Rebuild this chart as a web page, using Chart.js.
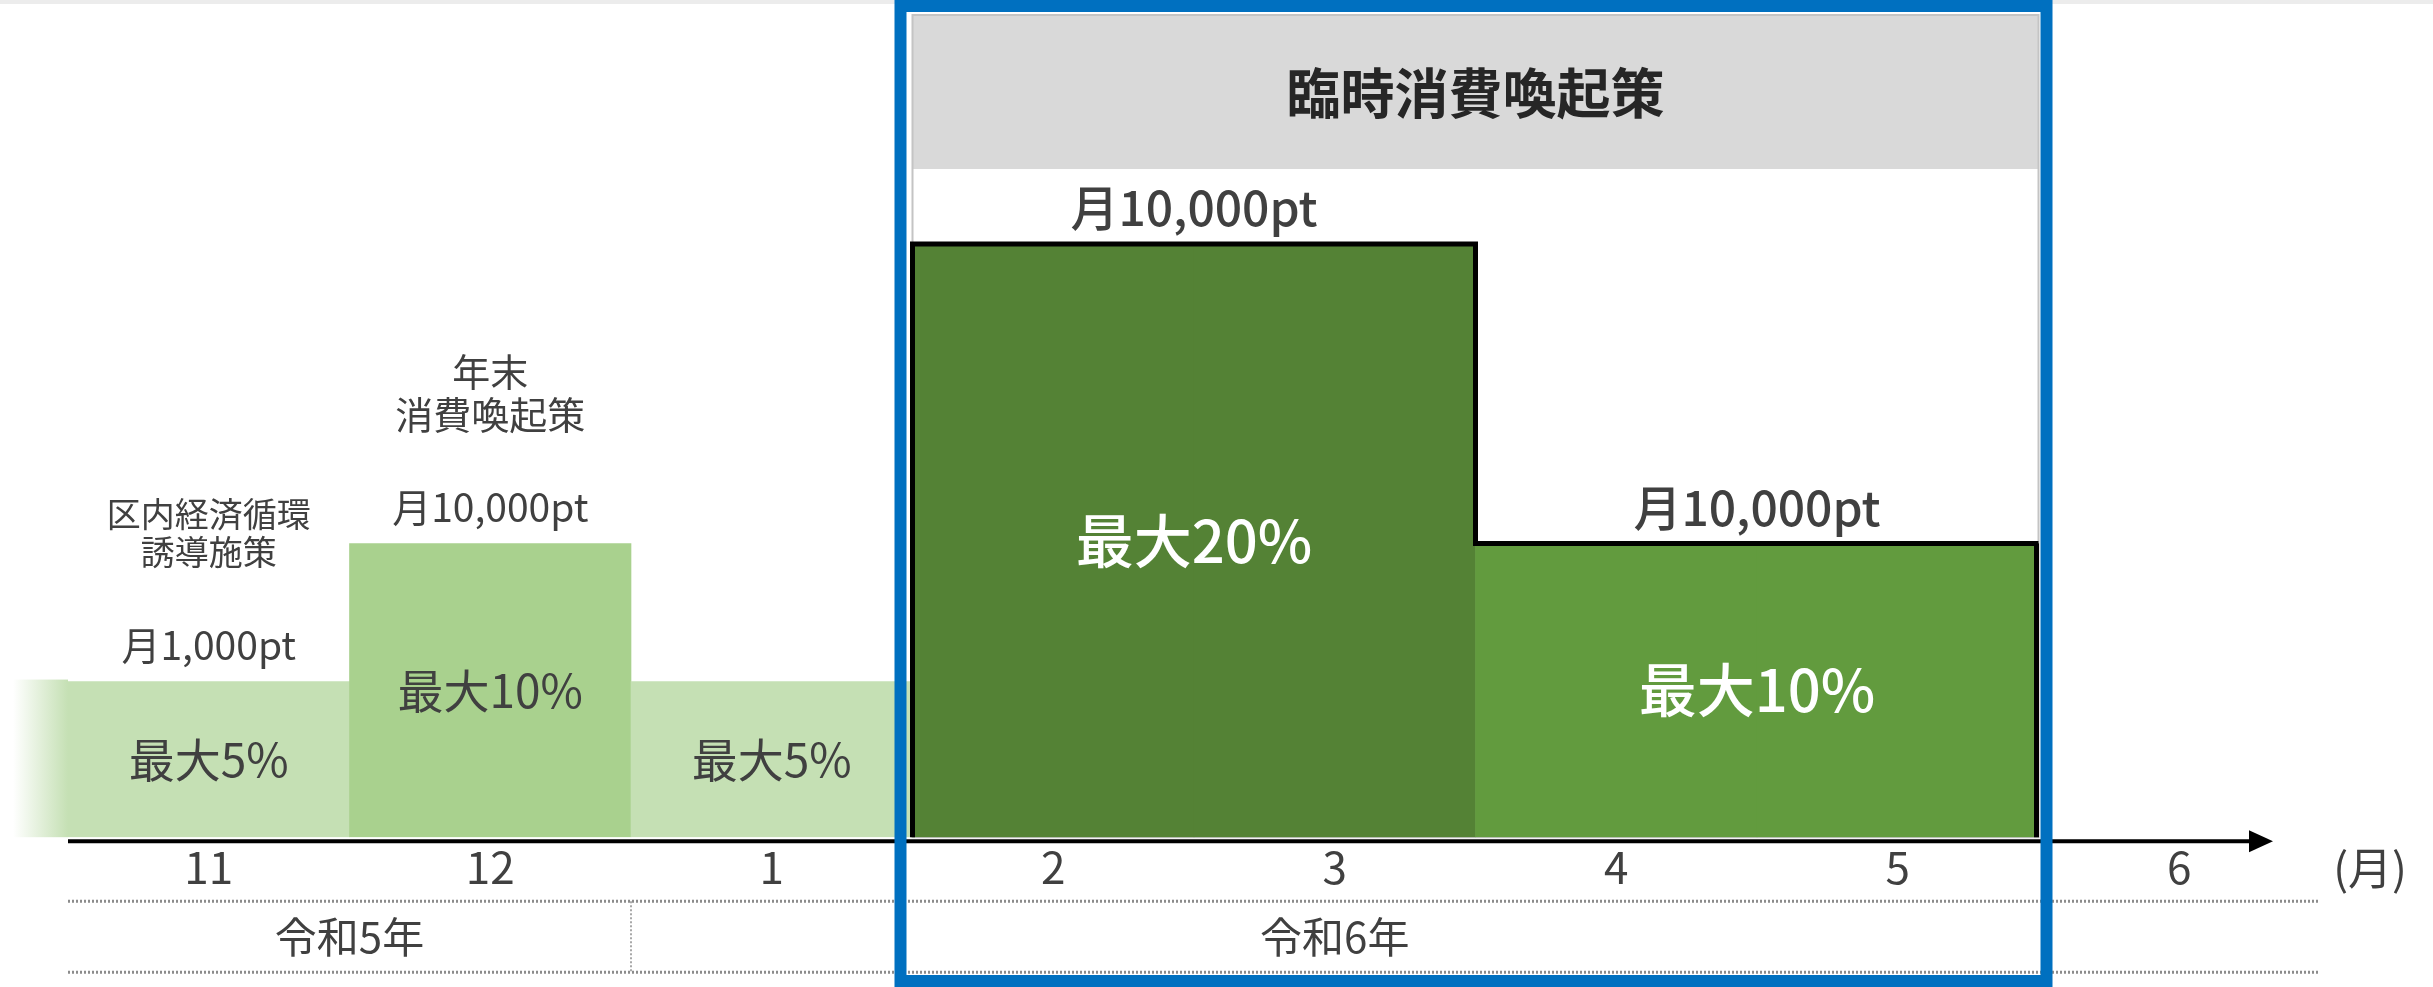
<!DOCTYPE html>
<html lang="ja">
<head>
<meta charset="utf-8">
<title>臨時消費喚起策</title>
<script src="https://cdn.jsdelivr.net/npm/chart.js@4.4.1/dist/chart.umd.min.js"></script>
<style>
	html, body { margin: 0; padding: 0; background: #fff; }
	#wrap { width: 2433px; height: 987px; }
</style>
</head>
<body>
<div id="wrap"><canvas id="myChart" width="2433" height="987"></canvas></div>
<script>
const months = ['11', '12', '1', '2', '3', '4', '5', '6'];
const barHeights = [5.3, 10, 5.3, 20.2, 20.2, 10, 10, null]; // 棒の高さ (月6は空)
const barColors = ['#c5e0b4', '#a9d18e', '#c5e0b4', '#548235', '#548235', '#629b3e', '#629b3e', 'rgba(0,0,0,0)'];
const rateLabels = ['最大5%', '最大10%', '最大5%', '最大20%', '最大10%'];
const rateSpans = [[0, 0], [1, 1], [2, 2], [3, 4], [5, 6]];
const pointLabels = ['月1,000pt', '月10,000pt', '月10,000pt', '月10,000pt'];
const pointSpans = [[0, 0], [1, 1], [3, 4], [5, 6]];
const policyNames = [['区内経済循環', '誘導施策'], ['年末', '消費喚起策']];
const policyIndex = [0, 1];
const years = ['令和5年', '令和6年'];
const yearLabelAt = [0.5, 4];
const yearDividers = [1.5];
const highlightTitle = '臨時消費喚起策';
const highlightSpan = [3, 6];
const unitLabel = '(月)';

const FONT = '"Noto Sans CJK JP", "Noto Sans", sans-serif';
const TEXT = '#404040';

const decoPlugin = {
	id: 'deco',
	beforeDatasetsDraw(chart) {
		const ctx = chart.ctx;
		const area = chart.chartArea;
		const x = chart.scales.x;
		const y = chart.scales.y;
		ctx.save();
		// 上端の薄いグレー帯
		ctx.fillStyle = '#ececec';
		ctx.fillRect(0, 0, chart.width, 4);

		// 臨時消費喚起策の枠
		const hl = x.getPixelForValue(highlightSpan[0] - 0.5);
		const hr = x.getPixelForValue(highlightSpan[1] + 0.5);
		ctx.fillStyle = '#d9d9d9';
		ctx.fillRect(hl, area.top, hr - hl, 154);
		ctx.strokeStyle = '#c4c4c4';
		ctx.lineWidth = 2;
		ctx.strokeRect(hl, area.top, hr - hl, area.bottom - area.top);
		ctx.fillStyle = '#262626';
		ctx.font = 'bold 54px ' + FONT;
		ctx.textAlign = 'center';
		ctx.textBaseline = 'middle';
		ctx.fillText(highlightTitle, (hl + hr) / 2, area.top + 78);

		// 左端のグラデーション
		const top0 = y.getPixelForValue(barHeights[0]) - 2;
		const g = ctx.createLinearGradient(area.left - 55, 0, area.left, 0);
		g.addColorStop(0, '#ffffff');
		g.addColorStop(1, barColors[0]);
		ctx.fillStyle = g;
		ctx.fillRect(area.left - 55, top0, 55, area.bottom - top0);
		ctx.restore();
	},
	afterDatasetsDraw(chart) {
		const ctx = chart.ctx;
		const area = chart.chartArea;
		const x = chart.scales.x;
		const bars = chart.getDatasetMeta(0).data;
		ctx.save();

		// 強調棒の外形線
		const first = bars[highlightSpan[0]];
		const last = bars[highlightSpan[1]];
		ctx.beginPath();
		ctx.moveTo(first.x - first.width / 2, first.base);
		for (let i = highlightSpan[0]; i <= highlightSpan[1]; i++) {
			const b = bars[i];
			ctx.lineTo(b.x - b.width / 2, b.y);
			ctx.lineTo(b.x + b.width / 2, b.y);
		}
		ctx.lineTo(last.x + last.width / 2 - 2, last.y);
		ctx.lineTo(last.x + last.width / 2 - 2, last.base);
		ctx.strokeStyle = '#000';
		ctx.lineWidth = 5;
		ctx.lineJoin = 'miter';
		ctx.stroke();

		// 横軸と矢印
		const ay = area.bottom + 4;
		const tip = area.right - 47;
		ctx.beginPath();
		ctx.moveTo(area.left, ay);
		ctx.lineTo(tip - 20, ay);
		ctx.lineWidth = 4;
		ctx.stroke();
		ctx.beginPath();
		ctx.moveTo(tip, ay);
		ctx.lineTo(tip - 24, ay - 11);
		ctx.lineTo(tip - 24, ay + 11);
		ctx.closePath();
		ctx.fillStyle = '#000';
		ctx.fill();

		ctx.textAlign = 'center';
		ctx.textBaseline = 'middle';
		ctx.fillStyle = TEXT;
		ctx.font = '44px ' + FONT;
		ctx.fillText(unitLabel, area.right + 50, area.bottom + 31);

		// 棒の中のラベル
		rateSpans.forEach((s, i) => {
			const a = bars[s[0]], b = bars[s[1]];
			const cx = (a.x + b.x) / 2;
			const cy = (a.y + a.base) / 2;
			const strong = s[0] >= highlightSpan[0];
			ctx.fillStyle = strong ? '#ffffff' : TEXT;
			ctx.font = (strong ? '500 58px ' : '46px ') + FONT;
			ctx.fillText(rateLabels[i], cx, cy);
		});

		// ポイントのラベル
		const ptY = [];
		pointSpans.forEach((s, i) => {
			const a = bars[s[0]], b = bars[s[1]];
			const cx = (a.x + b.x) / 2;
			const cy = a.y - 36;
			ptY[s[0]] = cy;
			const strong = s[0] >= highlightSpan[0];
			ctx.fillStyle = TEXT;
			ctx.font = (strong ? '500 48px ' : '39px ') + FONT;
			ctx.fillText(pointLabels[i], cx, cy);
		});

		// 施策名
		policyNames.forEach((lines, i) => {
			const idx = policyIndex[i];
			const size = i === 0 ? 34 : 38;
			ctx.font = size + 'px ' + FONT;
			ctx.fillStyle = TEXT;
			const lastY = ptY[idx] - 93;
			lines.forEach((t, k) => {
				ctx.fillText(t, bars[idx].x, lastY - (lines.length - 1 - k) * size * 1.13);
			});
		});

		// 年の行
		const r1 = area.bottom + 64, r2 = area.bottom + 135;
		ctx.strokeStyle = '#8c8c8c';
		ctx.lineWidth = 3;
		ctx.setLineDash([2, 2]);
		ctx.beginPath();
		ctx.moveTo(area.left, r1); ctx.lineTo(area.right, r1);
		ctx.moveTo(area.left, r2); ctx.lineTo(area.right, r2);
		ctx.stroke();
		ctx.lineWidth = 1.5;
		ctx.beginPath();
		yearDividers.forEach(v => {
			const px = x.getPixelForValue(v);
			ctx.moveTo(px, r1); ctx.lineTo(px, r2);
		});
		ctx.stroke();
		ctx.setLineDash([]);
		ctx.font = '42px ' + FONT;
		ctx.fillStyle = TEXT;
		years.forEach((t, i) => {
			ctx.fillText(t, x.getPixelForValue(yearLabelAt[i]), (r1 + r2) / 2);
		});

		// 青い枠
		const bl = x.getPixelForValue(highlightSpan[0] - 0.5) - 18;
		const br = x.getPixelForValue(highlightSpan[1] + 0.5) + 14;
		ctx.strokeStyle = '#0070c0';
		ctx.lineWidth = 12;
		ctx.strokeRect(bl + 6, 6, br - bl - 12, chart.height - 12);
		ctx.restore();
	}
};

const ctx = document.getElementById('myChart').getContext('2d');
const myChart = new Chart(ctx, {
	type: 'bar',
	data: {
		labels: months,
		datasets: [{
			data: barHeights,
			backgroundColor: barColors,
			borderWidth: 0,
			categoryPercentage: 1.0,
			barPercentage: 1.0
		}]
	},
	options: {
		responsive: false,
		animation: false,
		layout: { padding: { left: 68, right: 113, top: 15, bottom: 89 } },
		plugins: {
			legend: { display: false },
			tooltip: { enabled: false }
		},
		scales: {
			x: {
				grid: { display: false, drawTicks: false },
				border: { display: false },
				ticks: {
					color: TEXT,
					font: { family: FONT, size: 44 },
					padding: 4,
					autoSkip: false,
					maxRotation: 0
				}
			},
			y: {
				display: false,
				min: 0,
				max: 28
			}
		}
	},
	plugins: [decoPlugin]
});
</script>
</body>
</html>
